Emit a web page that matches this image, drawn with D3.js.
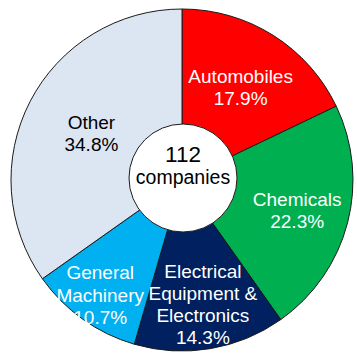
<!DOCTYPE html>
<html>
<head>
<meta charset="utf-8">
<script src="https://cdn.jsdelivr.net/npm/d3@7/dist/d3.min.js"></script>
<style>
  html, body { margin: 0; padding: 0; background: #ffffff; }
  svg { display: block; }
  text { font-family: "Liberation Sans", Arial, sans-serif; }
</style>
</head>
<body>
<svg id="chart" width="357" height="353"></svg>
<script>
// Share of companies by industry (percent), clockwise from 12 o'clock
const categories = ["Automobiles", "Chemicals", "Electrical Equipment & Electronics", "General Machinery", "Other"];
const labelLines = [
  ["Automobiles"],
  ["Chemicals"],
  ["Electrical", "Equipment &", "Electronics"],
  ["General", "Machinery"],
  ["Other"]
];
const shares = [17.9, 22.3, 14.3, 10.7, 34.8];
const centerLines = ["112", "companies"];

// Styling
const colors = ["#ff0000", "#00b050", "#002060", "#00b0f0", "#dce6f2"];
const textColors = ["#ffffff", "#ffffff", "#ffffff", "#ffffff", "#000000"];
// radius at which each label block is centred along its slice's mid-angle
const labelRadius = [110, 119, 126, 141, 102];

const svg = d3.select("#chart");
const cx = 182, cy = 180, outerR = 171, holeR = 54;

const rows = categories.map((c, i) => ({
  name: c, lines: labelLines[i], value: shares[i],
  color: colors[i], textColor: textColors[i], lr: labelRadius[i]
}));

const pie = d3.pie().sort(null).value(d => d.value);
const arcs = pie(rows);
const arc = d3.arc().innerRadius(0).outerRadius(outerR);

const g = svg.append("g").attr("transform", `translate(${cx},${cy})`);

g.selectAll("path.slice")
  .data(arcs)
  .join("path")
  .attr("class", "slice")
  .attr("d", arc)
  .attr("fill", d => d.data.color)
  .attr("stroke", "#1a1a1a")
  .attr("stroke-width", 1);

// white hole with the total
g.append("circle")
  .attr("r", holeR)
  .attr("cx", 1)
  .attr("cy", -2)
  .attr("fill", "#ffffff")
  .attr("stroke", "#1a1a1a")
  .attr("stroke-width", 1);

g.append("text").attr("text-anchor", "middle").attr("fill", "#000")
  .attr("x", 1).attr("y", -18).attr("font-size", 22.5).text(centerLines[0]);
g.append("text").attr("text-anchor", "middle").attr("fill", "#000")
  .attr("x", 1).attr("y", 4).attr("font-size", 19.5).text(centerLines[1]);

// slice labels: name lines followed by the percentage
const fs = 19, lh = 22.2, cap = fs * 0.716;
arcs.forEach(a => {
  const d = a.data;
  const pos = d3.arc().innerRadius(d.lr).outerRadius(d.lr).centroid(a);
  const lines = d.lines.concat([d3.format(".1f")(d.value) + "%"]);
  const first = pos[1] - (lines.length - 1) * lh / 2 + cap / 2;
  const t = g.append("text")
    .attr("text-anchor", "middle")
    .attr("font-size", fs)
    .attr("fill", d.textColor);
  lines.forEach((s, k) => {
    t.append("tspan").attr("x", pos[0]).attr("y", first + k * lh).text(s);
  });
});
</script>
</body>
</html>
